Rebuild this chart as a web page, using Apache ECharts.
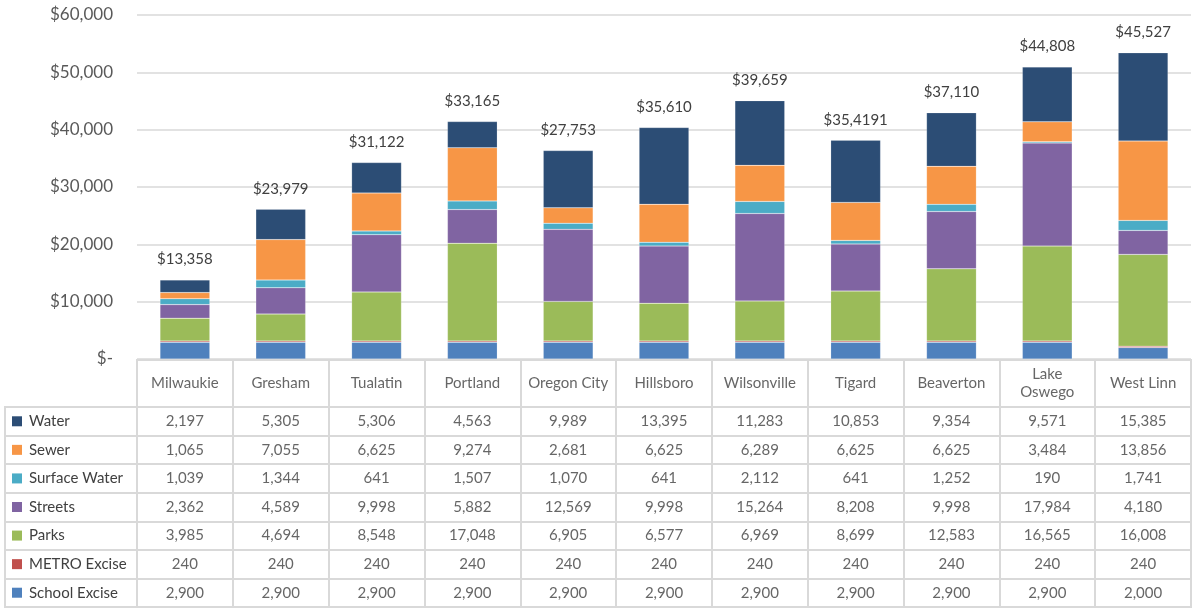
<!DOCTYPE html>
<html>
<head>
<meta charset="utf-8">
<script src="https://cdn.jsdelivr.net/npm/echarts@6/dist/echarts.min.js"></script>
<style>
  html, body { margin: 0; padding: 0; background: #fff; }
  #main { width: 1193px; height: 608px; }
</style>
</head>
<body>
<div id="main"></div>
<script>
// cities along the x axis
var categories = ['Milwaukie', 'Gresham', 'Tualatin', 'Portland', 'Oregon City', 'Hillsboro',
  'Wilsonville', 'Tigard', 'Beaverton', 'Lake\nOswego', 'West Linn'];

// fees per category
var water   = [2197, 5305, 5306, 4563, 9989, 13395, 11283, 10853, 9354, 9571, 15385];
var sewer   = [1065, 7055, 6625, 9274, 2681, 6625, 6289, 6625, 6625, 3484, 13856];
var surface = [1039, 1344, 641, 1507, 1070, 641, 2112, 641, 1252, 190, 1741];
var streets = [2362, 4589, 9998, 5882, 12569, 9998, 15264, 8208, 9998, 17984, 4180];
var parks   = [3985, 4694, 8548, 17048, 6905, 6577, 6969, 8699, 12583, 16565, 16008];
var metro   = [240, 240, 240, 240, 240, 240, 240, 240, 240, 240, 240];
var school  = [2900, 2900, 2900, 2900, 2900, 2900, 2900, 2900, 2900, 2900, 2000];

// totals printed above the bars (as shown in the source)
var totalLabels = ['$13,358', '$23,979', '$31,122', '$33,165', '$27,753', '$35,610',
  '$39,659', '$35,4191', '$37,110', '$44,808', '$45,527'];

var yTicks = [0, 10000, 20000, 30000, 40000, 50000, 60000];

// table rows, top to bottom
var rows = [
  { name: 'Water', data: water, color: '#2c4d75' },
  { name: 'Sewer', data: sewer, color: '#f79646' },
  { name: 'Surface Water', data: surface, color: '#4bacc6' },
  { name: 'Streets', data: streets, color: '#8064a2' },
  { name: 'Parks', data: parks, color: '#9bbb59' },
  { name: 'METRO Excise', data: metro, color: '#c0504d' },
  { name: 'School Excise', data: school, color: '#4f81bd' }
];

var font = 'Lato, "Liberation Sans", sans-serif';
var txt = '#404040';
var border = '#d9d9d9';

var chart = echarts.init(document.getElementById('main'));

// stacked bars, bottom row of the table first
var barSeries = rows.slice().reverse().map(function (r, k, arr) {
  var s = {
    name: r.name,
    type: 'bar',
    stack: 'total',
    xAxisIndex: 0,
    yAxisIndex: 0,
    barWidth: '52%',
    data: r.data,
    itemStyle: { color: r.color, borderColor: 'rgba(255,255,255,0.35)', borderWidth: 0.5 },
    silent: true
  };
  if (k === arr.length - 1) {
    s.label = {
      show: true,
      position: 'top',
      distance: 13,
      fontFamily: font,
      fontSize: 15,
      color: txt,
      formatter: function (p) { return totalLabels[p.dataIndex]; }
    };
  }
  return s;
});

// table cells
var cellData = [];
rows.forEach(function (r, ri) {
  r.data.forEach(function (v, ci) {
    cellData.push([ci, ri, v]);
  });
});

var headerData = categories.map(function (c, i) { return [i, 0, c]; });

var rich = { g: { width: 7 } };
rows.forEach(function (r, i) {
  rich['s' + i] = { width: 10, height: 10, backgroundColor: r.color };
});
rich.t = { fontFamily: font, fontSize: 15, color: txt };

chart.setOption({
  animation: false,
  textStyle: { fontFamily: font },
  grid: [
    { left: 137, right: 2, top: 15, height: 344 },
    { left: 137, right: 2, top: 360, height: 47, show: true, borderColor: border, borderWidth: 2 },
    { left: 137, right: 2, top: 407, bottom: 1, show: true, borderColor: border, borderWidth: 2 },
    { left: 5, width: 132, top: 407, bottom: 1, show: true, borderColor: border, borderWidth: 2 }
  ],
  xAxis: [
    { gridIndex: 0, type: 'category', data: categories, axisLine: { show: false },
      axisTick: { show: false }, axisLabel: { show: false } },
    { gridIndex: 1, type: 'category', data: categories, axisLine: { show: false },
      axisTick: { show: false }, axisLabel: { show: false },
      splitLine: { show: true, lineStyle: { color: border, width: 2 } } },
    { gridIndex: 2, type: 'category', data: categories, axisLine: { show: false },
      axisTick: { show: false }, axisLabel: { show: false },
      splitLine: { show: true, lineStyle: { color: border, width: 2 } } },
    { gridIndex: 3, type: 'category', data: [''], axisLine: { show: false },
      axisTick: { show: false }, axisLabel: { show: false } }
  ],
  yAxis: [
    { gridIndex: 0, type: 'value', min: yTicks[0], max: yTicks[yTicks.length - 1], interval: 10000,
      axisLine: { show: false }, axisTick: { show: false },
      axisLabel: {
        margin: 24, fontSize: 17, color: '#595959', fontFamily: font,
        formatter: function (v) { return v === 0 ? '$-' : '$' + v.toLocaleString('en-US'); }
      },
      splitLine: { lineStyle: { color: border, width: 1.5 } } },
    { gridIndex: 1, type: 'value', min: -1, max: 1, show: false },
    { gridIndex: 2, type: 'category', inverse: true, data: rows.map(function (r) { return r.name; }),
      axisLine: { show: false }, axisTick: { show: false }, axisLabel: { show: false },
      splitLine: { show: true, lineStyle: { color: border, width: 2 } } },
    { gridIndex: 3, type: 'category', inverse: true, data: rows.map(function (r) { return r.name; }),
      axisLine: { show: false }, axisTick: { show: false },
      axisLabel: {
        inside: true, margin: 7, rich: rich,
        formatter: function (v, i) { return '{s' + i + '|}{g|}{t|' + v + '}'; }
      },
      splitLine: { show: true, lineStyle: { color: border, width: 2 } } }
  ],
  series: barSeries.concat([
    {
      type: 'scatter', xAxisIndex: 1, yAxisIndex: 1, symbolSize: 0, silent: true,
      data: headerData,
      label: {
        show: true, position: 'inside', fontFamily: font, fontSize: 15, color: txt,
        lineHeight: 18, align: 'center',
        formatter: function (p) { return p.data[2]; }
      }
    },
    {
      type: 'scatter', xAxisIndex: 2, yAxisIndex: 2, symbolSize: 0, silent: true,
      data: cellData,
      label: {
        show: true, position: 'inside', fontFamily: font, fontSize: 15, color: txt,
        formatter: function (p) { return p.data[2].toLocaleString('en-US'); }
      }
    }
  ])
});
</script>
</body>
</html>
